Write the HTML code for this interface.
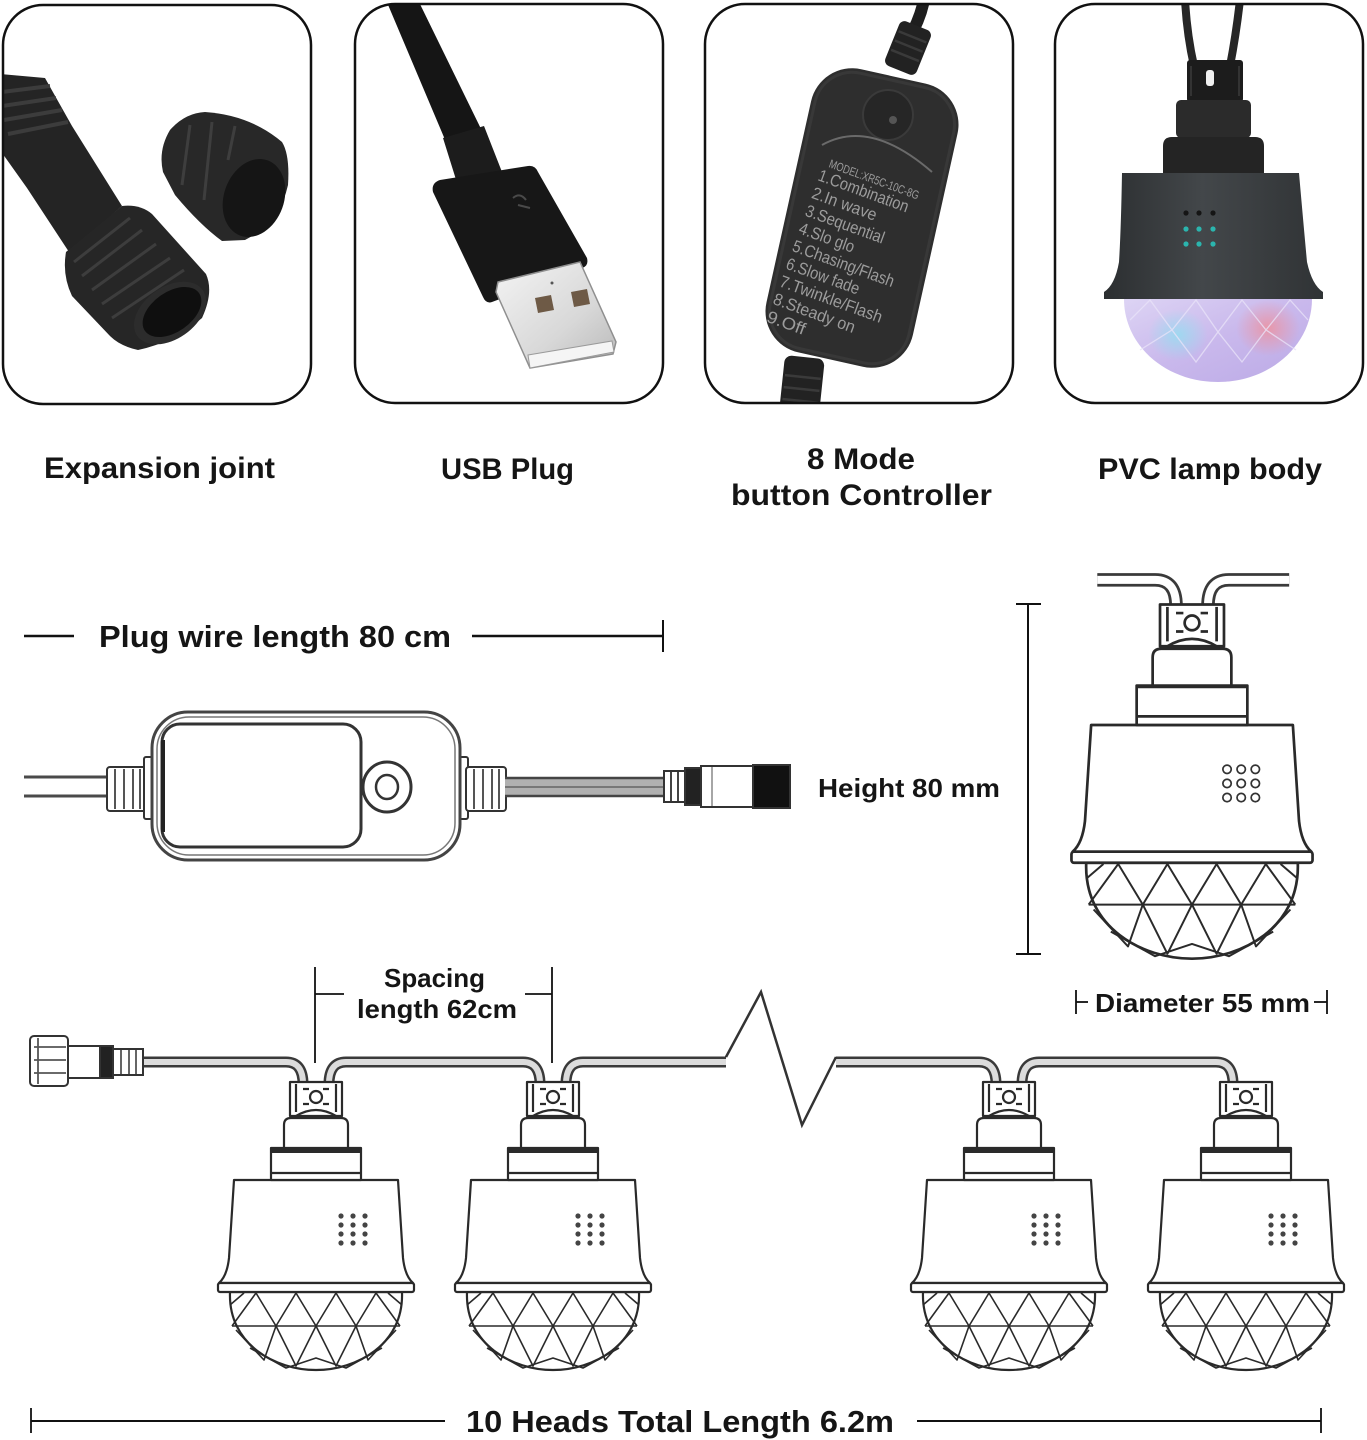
<!DOCTYPE html>
<html><head><meta charset="utf-8"><style>
html,body{margin:0;padding:0;background:#fff;}
svg{display:block;}
.lb{font-family:"Liberation Sans",sans-serif;font-weight:bold;fill:#151515;}
.ct{font-family:"Liberation Sans",sans-serif;font-weight:normal;fill:#9c9c9c;}
</style></head><body>
<svg width="1367" height="1440" viewBox="0 0 1367 1440" xmlns="http://www.w3.org/2000/svg">
<defs>
 <clipPath id="c1"><rect x="3" y="5" width="308" height="399" rx="40"/></clipPath>
 <clipPath id="c2"><rect x="355" y="4" width="308" height="399" rx="40"/></clipPath>
 <clipPath id="c3"><rect x="705" y="4" width="308" height="399" rx="40"/></clipPath>
 <clipPath id="c4"><rect x="1055" y="4" width="308" height="399" rx="40"/></clipPath>
 <linearGradient id="bodyg" x1="0" y1="0" x2="1" y2="0">
  <stop offset="0" stop-color="#2c2f31"/><stop offset="0.45" stop-color="#43474a"/><stop offset="1" stop-color="#303335"/>
 </linearGradient>
 <linearGradient id="domeg" x1="0" y1="0" x2="1" y2="1">
  <stop offset="0" stop-color="#ddd4f4"/><stop offset="0.5" stop-color="#c9b8ec"/><stop offset="1" stop-color="#bbaae6"/>
 </linearGradient>
 <radialGradient id="pinkg" cx="0.5" cy="0.5" r="0.5">
  <stop offset="0" stop-color="#f0909a" stop-opacity="0.8"/><stop offset="1" stop-color="#f0909a" stop-opacity="0"/>
 </radialGradient>
 <radialGradient id="cyang" cx="0.5" cy="0.5" r="0.5">
  <stop offset="0" stop-color="#8fe0f0" stop-opacity="0.75"/><stop offset="1" stop-color="#8fe0f0" stop-opacity="0"/>
 </radialGradient>
 <linearGradient id="metalg" x1="0" y1="0" x2="1" y2="1">
  <stop offset="0" stop-color="#f4f4f4"/><stop offset="0.6" stop-color="#d8d8d8"/><stop offset="1" stop-color="#b8b8b8"/>
 </linearGradient>

 <g id="lamp" fill="#fff" stroke="#2a2a2a" stroke-width="2.2" stroke-linejoin="round">
  <path d="M -86 112 C -88 165 -40 190 0 190 C 40 190 88 165 86 112 Z"/>
  <g fill="none" stroke-width="1.6">
   <polyline points="-84,146 -60,113 -40,146 -20,113 0,146 20,113 40,146 60,113 84,146"/>
   <line x1="-84" y1="146" x2="84" y2="146"/>
   <polyline points="-80,150 -52,180 -40,146 -20,186 0,146 20,186 40,146 52,180 80,150"/>
   <polyline points="-86,125 -72,113"/>
   <polyline points="86,125 72,113"/>
   <polyline points="-66,168 -30,188 0,178 30,188 66,168"/>
  </g>
  <path d="M -82 0 L 82 0 L 87 78 Q 89 96 97 103 L -97 103 Q -89 96 -87 78 Z"/>
  <rect x="-98" y="103" width="196" height="9" rx="2"/>
  <rect x="-45" y="-32" width="90" height="32"/>
  <line x1="-45" y1="-7" x2="45" y2="-7"/>
  <path d="M -32 -32 L -32 -55 Q -32 -62 -25 -62 L 25 -62 Q 32 -62 32 -55 L 32 -32 Z"/>
  <rect x="-26" y="-98" width="52" height="34"/>
  <circle cx="0" cy="-83" r="6"/>
  <path d="M -13 -91 L -7 -91 M 7 -91 L 13 -91 M -13 -76 L -7 -76 M 7 -76 L 13 -76" fill="none"/>
  <path d="M -20 -64 Q 0 -76 20 -64" fill="none"/>
  <line x1="-20" y1="-96" x2="-20" y2="-68"/><line x1="20" y1="-96" x2="20" y2="-68"/>
 </g>
 <g id="dots_s" fill="#444" stroke="none">
  <rect x="-45" y="-32" width="90" height="5" fill="#2a2a2a"/>
  <circle cx="25" cy="36" r="2.6"/><circle cx="37" cy="36" r="2.6"/><circle cx="49" cy="36" r="2.6"/>
  <circle cx="25" cy="45" r="2.6"/><circle cx="37" cy="45" r="2.6"/><circle cx="49" cy="45" r="2.6"/>
  <circle cx="25" cy="54" r="2.6"/><circle cx="37" cy="54" r="2.6"/><circle cx="49" cy="54" r="2.6"/>
  <circle cx="25" cy="63" r="2.6"/><circle cx="37" cy="63" r="2.6"/><circle cx="49" cy="63" r="2.6"/>
 </g>
</defs>

<rect width="1367" height="1440" fill="#fff"/>

<!-- ===== Panel 1: Expansion joint ===== -->
<rect x="3" y="5" width="308" height="399" rx="40" fill="#fff"/>
<g clip-path="url(#c1)">
 <polygon points="0,74 45,78 72,126 122,206 69,252 27,188 0,150" fill="#242424"/>
 <g stroke="#3c3c3c" stroke-width="4">
  <line x1="2" y1="92" x2="50" y2="86"/><line x1="2" y1="106" x2="56" y2="98"/>
  <line x1="4" y1="120" x2="62" y2="110"/><line x1="8" y1="134" x2="68" y2="122"/>
 </g>
 <path d="M 66 252 L 122 206 Q 140 204 152 214 L 206 274 Q 214 292 202 318 Q 175 342 138 350 Q 120 346 110 336 L 72 296 Q 62 275 66 252 Z" fill="#262626"/>
 <g stroke="#3d3d3d" stroke-width="3">
  <line x1="74" y1="262" x2="130" y2="218"/><line x1="82" y1="276" x2="142" y2="230"/>
  <line x1="92" y1="290" x2="156" y2="244"/><line x1="102" y1="304" x2="170" y2="258"/>
  <line x1="112" y1="318" x2="184" y2="270"/>
 </g>
 <ellipse cx="170" cy="313" rx="40" ry="26" transform="rotate(-35 170 313)" fill="#2c2c2c"/>
 <ellipse cx="172" cy="312" rx="33" ry="20" transform="rotate(-35 172 312)" fill="#0f0f0f"/>
 <path d="M 163 172 Q 158 150 170 130 Q 185 113 205 112 Q 250 115 282 142 Q 290 155 288 185 Q 280 222 245 240 L 222 241 Q 200 225 175 195 Z" fill="#282828"/>
 <g stroke="#3e3e3e" stroke-width="3">
  <line x1="190" y1="125" x2="182" y2="185"/><line x1="212" y1="122" x2="204" y2="200"/><line x1="235" y1="126" x2="228" y2="160"/>
 </g>
 <ellipse cx="254" cy="198" rx="30" ry="40" transform="rotate(20 254 198)" fill="#151515"/>
</g>
<rect x="3" y="5" width="308" height="399" rx="40" fill="none" stroke="#111" stroke-width="2.5"/>

<!-- ===== Panel 2: USB ===== -->
<rect x="355" y="4" width="308" height="399" rx="40" fill="#fff"/>
<g clip-path="url(#c2)">
 <polygon points="386,0 418,0 484,135 446,142" fill="#151515"/>
 <polygon points="443,138 484,126 502,172 458,186" fill="#1c1c1c"/>
 <path d="M 440 180 L 528 166 Q 535 165 538 172 L 587 258 Q 589 266 582 268 L 492 302 Q 486 304 483 297 L 433 192 Q 431 183 440 180 Z" fill="#171717"/>
 <path d="M 513 198 Q 520 192 526 200 M 518 205 L 530 208" stroke="#4a4a4a" stroke-width="2" fill="none"/>
 <polygon points="498,282 580,262 616,342 613,354 530,368 496,292" fill="url(#metalg)" stroke="#8f8f8f" stroke-width="1.5"/>
 <polygon points="528,355 612,341 614,352 530,368" fill="#f5f5f5" stroke="#9a9a9a" stroke-width="1"/>
 <polygon points="535,298 551,295 554,310 538,313" fill="#6e5a46"/>
 <polygon points="571,292 587,289 590,304 574,307" fill="#6e5a46"/>
 <circle cx="552" cy="283" r="1.5" fill="#555"/>
</g>
<rect x="355" y="4" width="308" height="399" rx="40" fill="none" stroke="#111" stroke-width="2.5"/>

<!-- ===== Panel 3: Controller ===== -->
<rect x="705" y="4" width="308" height="399" rx="40" fill="#fff"/>
<g clip-path="url(#c3)">
 <path d="M 924 0 Q 920 20 908 40" stroke="#1e1e1e" stroke-width="12" fill="none"/>
 <rect x="-17" y="-24" width="34" height="48" rx="6" transform="translate(908,48) rotate(22)" fill="#222"/>
 <g transform="translate(908,48) rotate(22)" stroke="#3a3a3a" stroke-width="2.5">
  <line x1="-15" y1="-12" x2="15" y2="-12"/><line x1="-15" y1="-2" x2="15" y2="-2"/><line x1="-15" y1="8" x2="15" y2="8"/>
 </g>
 <rect x="-20" y="-28" width="40" height="56" rx="7" transform="translate(802,385) rotate(6)" fill="#222"/>
 <g transform="translate(802,385) rotate(6)" stroke="#3a3a3a" stroke-width="2.5">
  <line x1="-18" y1="-8" x2="18" y2="-8"/><line x1="-18" y1="4" x2="18" y2="4"/><line x1="-18" y1="16" x2="18" y2="16"/>
 </g>
 <g transform="translate(862,218) rotate(12.5)">
  <rect x="-75" y="-145" width="150" height="290" rx="42" fill="#2e2e2e"/>
  <rect x="-71" y="-141" width="142" height="282" rx="38" fill="none" stroke="#383838" stroke-width="3"/>
 </g>
 <circle cx="888" cy="115" r="25" fill="#262626" stroke="#3a3a3a" stroke-width="2"/>
 <circle cx="893" cy="120" r="4" fill="#555"/>
 <path d="M 822 145 Q 870 118 932 172" stroke="#6a6a6a" stroke-width="2" fill="none"/>
 <g transform="translate(817,180) rotate(20)">
  <text class="ct" x="6" y="-16" font-size="12" textLength="95" lengthAdjust="spacingAndGlyphs">MODEL:XR5C-10C-8G</text>
  <text class="ct" x="0" y="0" font-size="17" textLength="95" lengthAdjust="spacingAndGlyphs">1.Combination</text>
  <text class="ct" x="0" y="18.8" font-size="17" textLength="68" lengthAdjust="spacingAndGlyphs">2.In wave</text>
  <text class="ct" x="0" y="37.6" font-size="17" textLength="83" lengthAdjust="spacingAndGlyphs">3.Sequential</text>
  <text class="ct" x="0" y="56.4" font-size="17" textLength="58" lengthAdjust="spacingAndGlyphs">4.Slo glo</text>
  <text class="ct" x="0" y="75.2" font-size="17" textLength="107" lengthAdjust="spacingAndGlyphs">5.Chasing/Flash</text>
  <text class="ct" x="0" y="94" font-size="17" textLength="77" lengthAdjust="spacingAndGlyphs">6.Slow fade</text>
  <text class="ct" x="0" y="112.8" font-size="17" textLength="108" lengthAdjust="spacingAndGlyphs">7.Twinkle/Flash</text>
  <text class="ct" x="0" y="131.6" font-size="17" textLength="86" lengthAdjust="spacingAndGlyphs">8.Steady on</text>
  <text class="ct" x="0" y="150.4" font-size="17" textLength="40" lengthAdjust="spacingAndGlyphs">9.Off</text>
 </g>
</g>
<rect x="705" y="4" width="308" height="399" rx="40" fill="none" stroke="#111" stroke-width="2.5"/>

<!-- ===== Panel 4: Lamp photo ===== -->
<rect x="1055" y="4" width="308" height="399" rx="40" fill="#fff"/>
<g clip-path="url(#c4)">
 <path d="M 1185 0 Q 1187 35 1194 66" stroke="#262626" stroke-width="8" fill="none"/>
 <path d="M 1240 0 Q 1236 35 1230 66" stroke="#262626" stroke-width="8" fill="none"/>
 <rect x="1187" y="60" width="56" height="42" rx="3" fill="#1c1c1c"/>
 <g stroke="#333" stroke-width="2"><line x1="1191" y1="66" x2="1191" y2="96"/><line x1="1239" y1="66" x2="1239" y2="96"/></g>
 <rect x="1206" y="70" width="8" height="16" rx="3" fill="#f0f0f0"/>
 <rect x="1176" y="100" width="75" height="38" rx="5" fill="#2b2b2b"/>
 <path d="M 1163 173 L 1163 146 Q 1163 137 1172 137 L 1255 137 Q 1264 137 1264 146 L 1264 173 Z" fill="#242424"/>
 <path d="M 1122 173 L 1299 173 Q 1304 230 1307 262 Q 1312 285 1323 292 L 1323 299 L 1104 299 L 1104 292 Q 1115 285 1119 262 Q 1121 230 1122 173 Z" fill="url(#bodyg)"/>
 <g fill="#151515"><circle cx="1186" cy="213" r="2.6"/><circle cx="1199" cy="213" r="2.6"/><circle cx="1213" cy="213" r="2.6"/></g>
 <g fill="#2bb5ae"><circle cx="1186" cy="229" r="2.6"/><circle cx="1199" cy="229" r="2.6"/><circle cx="1213" cy="229" r="2.6"/>
 <circle cx="1186" cy="244" r="2.6"/><circle cx="1199" cy="244" r="2.6"/><circle cx="1213" cy="244" r="2.6"/></g>
 <path d="M 1124 299 C 1124 345 1165 382 1218 382 C 1270 382 1312 345 1312 299 Z" fill="url(#domeg)"/>
 <ellipse cx="1268" cy="328" rx="32" ry="28" fill="url(#pinkg)"/>
 <ellipse cx="1178" cy="335" rx="30" ry="26" fill="url(#cyang)"/>
 <g stroke="#e8e2f8" stroke-width="1.3" fill="none" opacity="0.8">
  <polyline points="1130,320 1150,300 1172,330 1196,300 1218,332 1242,300 1266,330 1290,300 1308,320"/>
  <polyline points="1140,350 1172,330 1196,362 1218,332 1242,362 1266,330 1296,350"/>
 </g>
</g>
<rect x="1055" y="4" width="308" height="399" rx="40" fill="none" stroke="#111" stroke-width="2.5"/>

<!-- ===== Labels row ===== -->
<text class="lb" x="44" y="478" font-size="30" textLength="231" lengthAdjust="spacingAndGlyphs">Expansion joint</text>
<text class="lb" x="441" y="479" font-size="30" textLength="133" lengthAdjust="spacingAndGlyphs">USB Plug</text>
<text class="lb" x="807" y="469" font-size="30" textLength="108" lengthAdjust="spacingAndGlyphs">8 Mode</text>
<text class="lb" x="731" y="505" font-size="30" textLength="261" lengthAdjust="spacingAndGlyphs">button Controller</text>
<text class="lb" x="1098" y="479" font-size="30" textLength="224" lengthAdjust="spacingAndGlyphs">PVC lamp body</text>

<!-- ===== Plug wire dimension ===== -->
<line x1="24" y1="636" x2="74" y2="636" stroke="#111" stroke-width="2.5"/>
<text class="lb" x="99" y="647" font-size="31" textLength="352" lengthAdjust="spacingAndGlyphs">Plug wire length 80 cm</text>
<line x1="472" y1="636" x2="663" y2="636" stroke="#111" stroke-width="2.5"/>
<line x1="663" y1="620" x2="663" y2="652" stroke="#111" stroke-width="2"/>

<!-- ===== Controller drawing ===== -->
<g stroke="#4a4a4a" stroke-width="3" fill="none">
 <line x1="24" y1="777" x2="108" y2="777"/>
 <line x1="24" y1="796" x2="108" y2="796"/>
</g>
<g stroke="#333" stroke-width="2" fill="#fff">
 <rect x="107" y="767" width="40" height="44" rx="3"/>
 <rect x="144" y="757" width="9" height="62" rx="2"/>
 <rect x="459" y="757" width="9" height="62" rx="2"/>
 <rect x="466" y="767" width="40" height="44" rx="3"/>
</g>
<g stroke="#555" stroke-width="2">
 <line x1="115" y1="769" x2="115" y2="809"/><line x1="124" y1="769" x2="124" y2="809"/><line x1="133" y1="769" x2="133" y2="809"/><line x1="140" y1="769" x2="140" y2="809"/>
 <line x1="474" y1="769" x2="474" y2="809"/><line x1="483" y1="769" x2="483" y2="809"/><line x1="492" y1="769" x2="492" y2="809"/><line x1="499" y1="769" x2="499" y2="809"/>
</g>
<rect x="152" y="712" width="308" height="148" rx="36" fill="#fff" stroke="#444" stroke-width="3"/>
<rect x="157" y="717" width="298" height="138" rx="32" fill="none" stroke="#777" stroke-width="1.5"/>
<rect x="162" y="724" width="199" height="123" rx="18" fill="#fff" stroke="#333" stroke-width="3"/>
<line x1="163" y1="740" x2="163" y2="832" stroke="#222" stroke-width="4"/>
<ellipse cx="387" cy="787" rx="24" ry="25" fill="#fff" stroke="#333" stroke-width="3"/>
<ellipse cx="387" cy="787" rx="11" ry="12" fill="#fff" stroke="#333" stroke-width="2.5"/>
<rect x="505" y="778" width="160" height="18" fill="#b0b0b0"/>
<line x1="505" y1="778" x2="665" y2="778" stroke="#444" stroke-width="2.5"/>
<line x1="505" y1="796" x2="665" y2="796" stroke="#444" stroke-width="2.5"/>
<line x1="505" y1="787" x2="665" y2="787" stroke="#777" stroke-width="2"/>
<g stroke="#333" stroke-width="2" fill="#fff">
 <rect x="664" y="771" width="21" height="31"/>
 <rect x="685" y="768" width="16" height="37" fill="#222"/>
 <rect x="701" y="766" width="52" height="41"/>
 <rect x="753" y="765" width="37" height="43" fill="#111"/>
</g>
<line x1="671" y1="772" x2="671" y2="801" stroke="#444" stroke-width="2"/>
<line x1="678" y1="772" x2="678" y2="801" stroke="#444" stroke-width="2"/>
<line x1="712" y1="767" x2="712" y2="806" stroke="#888" stroke-width="1.5"/>

<text class="lb" x="818" y="797" font-size="26" textLength="182" lengthAdjust="spacingAndGlyphs">Height 80 mm</text>

<!-- ===== Height dimension ===== -->
<line x1="1028" y1="604" x2="1028" y2="954" stroke="#111" stroke-width="2"/>
<line x1="1016" y1="604" x2="1041" y2="604" stroke="#111" stroke-width="2"/>
<line x1="1016" y1="954" x2="1041" y2="954" stroke="#111" stroke-width="2"/>

<!-- ===== Large lamp ===== -->
<g transform="translate(1192,725) scale(1.23)">
 <path d="M -77 -118 L -30 -118 Q -13 -118 -13 -97 M 13 -97 Q 13 -118 30 -118 L 79 -118" fill="none" stroke="#3a3a3a" stroke-width="11"/>
 <path d="M -77 -118 L -30 -118 Q -13 -118 -13 -97 M 13 -97 Q 13 -118 30 -118 L 79 -118" fill="none" stroke="#fff" stroke-width="6.5"/>
 <use href="#lamp"/>
 <line x1="-45" y1="-31" x2="45" y2="-31" stroke="#2a2a2a" stroke-width="2.2"/>
 <g fill="none" stroke="#333" stroke-width="1.4">
  <circle cx="28.5" cy="36" r="3.4"/><circle cx="40" cy="36" r="3.4"/><circle cx="51.5" cy="36" r="3.4"/>
  <circle cx="28.5" cy="47.5" r="3.4"/><circle cx="40" cy="47.5" r="3.4"/><circle cx="51.5" cy="47.5" r="3.4"/>
  <circle cx="28.5" cy="59" r="3.4"/><circle cx="40" cy="59" r="3.4"/><circle cx="51.5" cy="59" r="3.4"/>
 </g>
</g>

<!-- ===== Diameter ===== -->
<line x1="1076" y1="990" x2="1076" y2="1014" stroke="#111" stroke-width="1.8"/>
<line x1="1076" y1="1002" x2="1088" y2="1002" stroke="#111" stroke-width="1.8"/>
<text class="lb" x="1095" y="1012" font-size="26" textLength="215" lengthAdjust="spacingAndGlyphs">Diameter 55 mm</text>
<line x1="1314" y1="1002" x2="1327" y2="1002" stroke="#111" stroke-width="1.8"/>
<line x1="1327" y1="990" x2="1327" y2="1014" stroke="#111" stroke-width="1.8"/>

<!-- ===== Spacing dimension ===== -->
<g stroke="#111" stroke-width="1.8">
 <line x1="315" y1="967" x2="315" y2="1063"/>
 <line x1="552" y1="967" x2="552" y2="1063"/>
 <line x1="315" y1="994" x2="344" y2="994"/>
 <line x1="525" y1="994" x2="552" y2="994"/>
</g>
<text class="lb" x="384" y="987" font-size="26" textLength="101" lengthAdjust="spacingAndGlyphs">Spacing</text>
<text class="lb" x="357" y="1018" font-size="26" textLength="160" lengthAdjust="spacingAndGlyphs">length 62cm</text>

<!-- ===== String cable ===== -->
<path d="M 143 1062 L 286 1062 Q 303 1062 303 1084 M 329 1084 Q 329 1062 346 1062 L 523 1062 Q 540 1062 540 1084 M 566 1084 Q 566 1062 583 1062 L 726 1062 M 836 1062 L 979 1062 Q 996 1062 996 1084 M 1022 1084 Q 1022 1062 1039 1062 L 1216 1062 Q 1233 1062 1233 1084" fill="none" stroke="#3a3a3a" stroke-width="11"/>
<path d="M 143 1062 L 286 1062 Q 303 1062 303 1084 M 329 1084 Q 329 1062 346 1062 L 523 1062 Q 540 1062 540 1084 M 566 1084 Q 566 1062 583 1062 L 726 1062 M 836 1062 L 979 1062 Q 996 1062 996 1084 M 1022 1084 Q 1022 1062 1039 1062 L 1216 1062 Q 1233 1062 1233 1084" fill="none" stroke="#dcdcdc" stroke-width="6"/>
<polyline points="726,1057 761,992 802,1125 836,1057" fill="none" stroke="#333" stroke-width="2.5" stroke-linejoin="miter"/>

<!-- start connector -->
<g stroke="#333" stroke-width="2" fill="#fff">
 <rect x="30" y="1036" width="38" height="50" rx="4"/>
 <rect x="68" y="1046" width="32" height="32"/>
 <rect x="100" y="1046" width="13" height="32" fill="#222"/>
 <rect x="113" y="1049" width="30" height="26"/>
</g>
<g stroke="#555" stroke-width="1.8">
 <line x1="34" y1="1047" x2="66" y2="1047"/><line x1="34" y1="1060" x2="66" y2="1060"/><line x1="34" y1="1073" x2="66" y2="1073"/>
 <line x1="38" y1="1038" x2="38" y2="1084"/>
 <line x1="121" y1="1050" x2="121" y2="1074"/><line x1="129" y1="1050" x2="129" y2="1074"/><line x1="136" y1="1050" x2="136" y2="1074"/>
</g>

<!-- small lamps -->
<g transform="translate(316,1180)"><use href="#lamp"/><use href="#dots_s"/></g>
<g transform="translate(553,1180)"><use href="#lamp"/><use href="#dots_s"/></g>
<g transform="translate(1009,1180)"><use href="#lamp"/><use href="#dots_s"/></g>
<g transform="translate(1246,1180)"><use href="#lamp"/><use href="#dots_s"/></g>

<!-- ===== Total length ===== -->
<line x1="31" y1="1421" x2="445" y2="1421" stroke="#111" stroke-width="2"/>
<line x1="31" y1="1408" x2="31" y2="1433" stroke="#111" stroke-width="1.8"/>
<text class="lb" x="466" y="1432" font-size="31" textLength="428" lengthAdjust="spacingAndGlyphs">10 Heads Total Length 6.2m</text>
<line x1="917" y1="1421" x2="1321" y2="1421" stroke="#111" stroke-width="2"/>
<line x1="1321" y1="1408" x2="1321" y2="1433" stroke="#111" stroke-width="1.8"/>
</svg>
</body></html>
